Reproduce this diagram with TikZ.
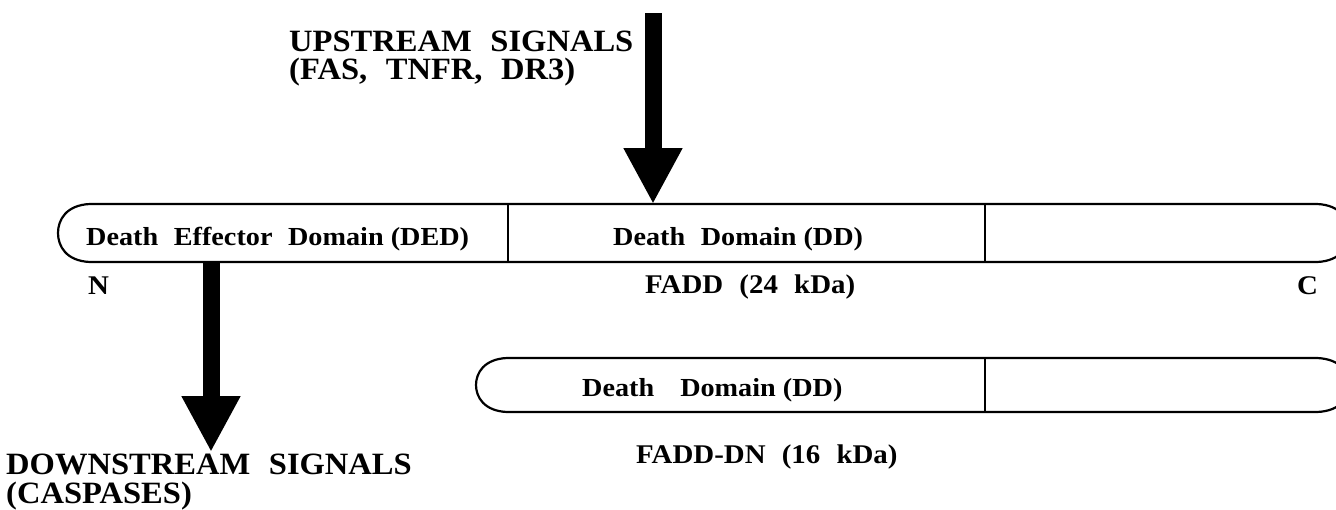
\documentclass[tikz,border=0pt]{standalone}
\usepackage{fontspec}
\setmainfont{Liberation Serif}
\newfontfamily\bigfont[FakeStretch=1.05]{Liberation Serif}
\newfontfamily\domfont[FakeStretch=1.085]{Liberation Serif}
\newfontfamily\namefont[FakeStretch=1.07]{Liberation Serif}
\newcommand\wgap{\hspace{0.6em}}
\usetikzlibrary{positioning,arrows.meta}

\begin{document}
\begin{tikzpicture}[x=1pt,y=-1pt,
    bar/.style={line width=2.2pt},
    sep/.style={line width=1.6pt},
    bigarrow/.style={line width=17pt,-{Triangle[width=55pt,length=56pt]}},
    biglabel/.style={align=left,inner sep=0pt,anchor=north west},
    domlabel/.style={font={\domfont\fontsize{26}{26}\selectfont\bfseries},inner sep=0pt,anchor=base west},
    namelabel/.style={font={\namefont\fontsize{27}{27}\selectfont\bfseries},inner sep=0pt,anchor=base west},]

    \clip (0,0) rectangle (1336,509);

    % FADD, full length
    \draw[bar] (1317,204) -- (90,204) .. controls (66,205) and (58,220) .. (58,233)
        .. controls (58,246) and (66,261) .. (90,262) -- (1317,262)
        .. controls (1341,261) and (1349,246) .. (1349,233)
        .. controls (1349,220) and (1341,205) .. (1317,204);
    \draw[sep] (508,204) -- (508,262);
    \draw[sep] (985,204) -- (985,262);

    % FADD-DN
    \draw[bar] (1317,358) -- (507,358) .. controls (484,359) and (476,373) .. (476,385)
        .. controls (476,397) and (484,411) .. (507,412) -- (1317,412)
        .. controls (1341,411) and (1349,397) .. (1349,385)
        .. controls (1349,373) and (1341,359) .. (1317,358);
    \draw[sep] (985,358) -- (985,412);

    \node[domlabel] (ded) at (86,245) {Death\wgap Effector\wgap Domain (DED)};
    \node[domlabel] (dd) at (613,245) {Death\wgap Domain (DD)};
    \node[namelabel] (nterm) at (88,294) {N};
    \node[namelabel] (fadd) at (645,293) {FADD\wgap(24\wgap kDa)};
    \node[namelabel] (cterm) at (1297,294) {C};

    \node[domlabel] (dddn) at (582,396) {Death\hspace{1em}Domain (DD)};
    \node[namelabel] (fadddn) at (636,463) {FADD-DN\wgap(16\wgap kDa)};

    \node[biglabel,font={\bigfont\fontsize{31}{28}\selectfont\bfseries}] (upstream) at (289,31)
        {UPSTREAM\wgap SIGNALS\\(FAS,\wgap TNFR,\wgap DR3)};
    \node[biglabel,font={\bigfont\fontsize{31}{29}\selectfont\bfseries}] (downstream) at (6,453.5)
        {DOWNSTREAM\wgap SIGNALS\\(CASPASES)};

    % signalling arrows
    \coordinate (upsrc) at (653,13);
    \coordinate (uptip) at (653,204);
    \coordinate (downsrc) at (211,262);
    \coordinate (downtip) at (211,452);
    \draw[bigarrow] (upsrc) -- (uptip);
    \draw[bigarrow] (downsrc) -- (downtip);

\end{tikzpicture}
\end{document}
